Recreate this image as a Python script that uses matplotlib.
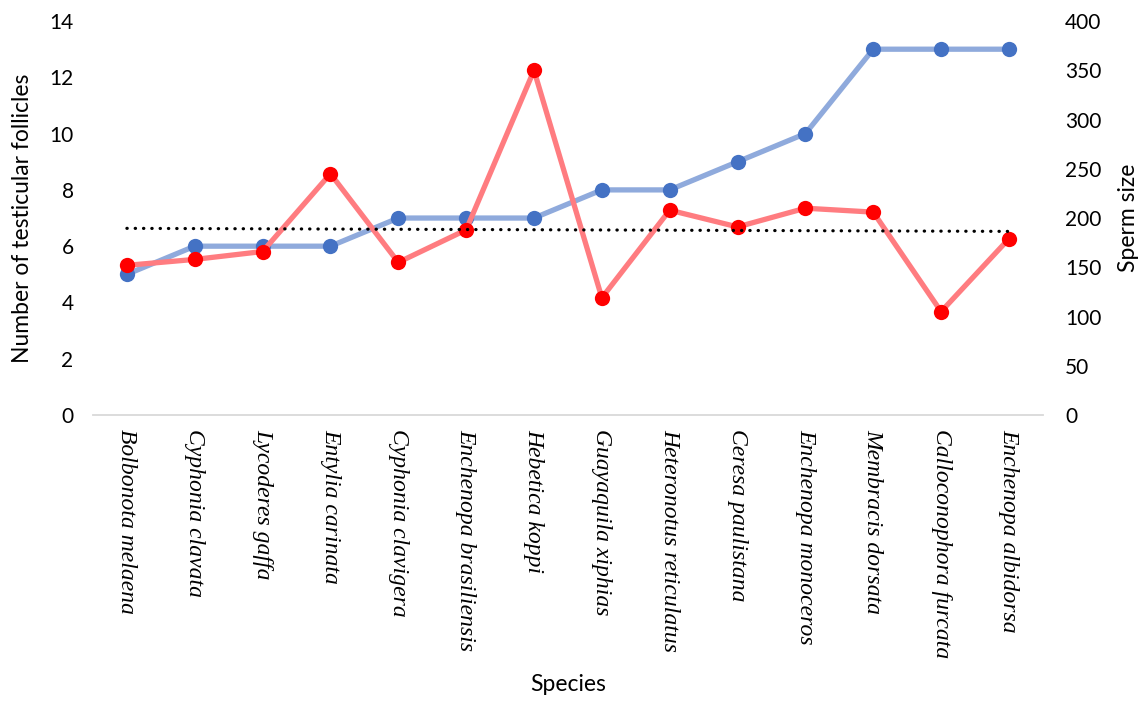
import numpy as np
import matplotlib
matplotlib.use("Agg")
import matplotlib.pyplot as plt

species = [
    "Bolbonota melaena", "Cyphonia clavata", "Lycoderes gaffa", "Entylia carinata",
    "Cyphonia clavigera", "Enchenopa brasiliensis", "Hebetica koppi",
    "Guayaquila xiphias", "Heteronotus reticulatus", "Ceresa paulistana",
    "Enchenopa monoceros", "Membracis dorsata", "Calloconophora furcata",
    "Enchenopa albidorsa",
]
follicles = [5, 6, 6, 6, 7, 7, 7, 8, 8, 9, 10, 13, 13, 13]
sperm_size = [152, 158, 166, 245, 155, 188, 350, 119, 208, 191, 210, 206, 105, 179]

left_ticks = [0, 2, 4, 6, 8, 10, 12, 14]
right_ticks = [0, 50, 100, 150, 200, 250, 300, 350, 400]

plt.rcParams["font.family"] = ["Lato", "DejaVu Sans"]

fig = plt.figure(figsize=(11.45, 7.02), dpi=100)
ax = fig.add_axes([0.0812, 0.4088, 0.8296, 0.5612])
ax2 = ax.twinx()

x = np.arange(len(species))

ax.plot(x, follicles, color="#8FAADC", lw=3.8, solid_capstyle="round", zorder=2)
ax.plot(x, follicles, "o", color="#4472C4", ms=11, mec="none", zorder=3)

ax2.plot(x, sperm_size, color="#FF7C80", lw=3.8, solid_capstyle="round", zorder=2)
ax2.plot(x, sperm_size, "o", color="#FF0000", ms=11, mec="none", zorder=3)

# linear trend of sperm size across species
coef = np.polyfit(x, sperm_size, 1)
ax2.plot(x, np.polyval(coef, x), color="black", lw=2.3,
         linestyle=(0, (0.1, 2.5)), dash_capstyle="round", zorder=4)

ax.set_xlim(-0.5, len(species) - 0.5)
ax.set_ylim(0, 14)
ax2.set_ylim(0, 400)
ax.set_yticks(left_ticks)
ax2.set_yticks(right_ticks)

for a in (ax, ax2):
    for s in ("left", "right", "top"):
        a.spines[s].set_visible(False)
    a.spines["bottom"].set_color("#D9D9D9")
    a.spines["bottom"].set_linewidth(1.3)
    a.tick_params(length=0, labelsize=15, colors="#000000")

ax.tick_params(axis="y", pad=14)
ax2.tick_params(axis="y", pad=16)
ax2.spines["bottom"].set_visible(False)

ax.set_xticks(x)
ax.set_xticklabels(species, rotation=-90, family="Liberation Serif",
                   style="italic", fontsize=17, va="top", ha="center")
ax.tick_params(axis="x", pad=10)

ax.set_ylabel("Number of testicular follicles", fontsize=16.5, labelpad=12)
ax2.set_ylabel("Sperm size", fontsize=16.5, rotation=90, labelpad=12)
ax.set_xlabel("Species", fontsize=16.5, va="center")
ax.xaxis.set_label_coords(0.5, -0.685)

fig.savefig("out.png", dpi=100)
